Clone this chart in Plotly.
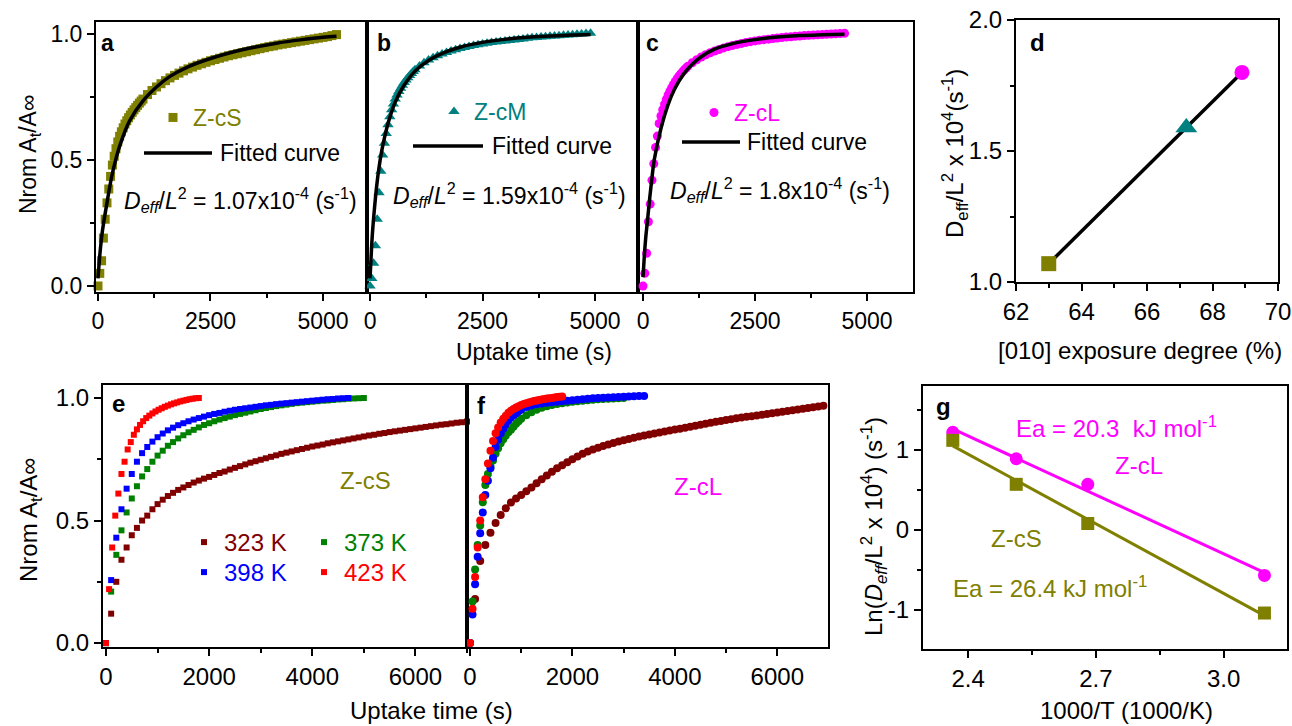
import numpy as np
import plotly.graph_objects as go

W, H = 1292, 726
OLIVE, TEAL, MAG = '#808000', '#008080', '#FF00FF'
BROWN, GREEN, BLUE, RED = '#800000', '#008000', '#0000FF', '#FF0000'
FONT = 'Liberation Sans, Arial, sans-serif'

# ---------------- data: panels a-c (uptake curves) ----------------
a_t = [0, 40, 80, 120, 160, 200, 240, 280, 320, 360, 400, 440, 480, 520, 560, 600, 640, 680, 720, 760,
       800, 840, 880, 920, 960, 1000, 1100, 1200, 1300, 1400, 1500, 1600, 1700, 1800, 1900, 2000, 2100,
       2200, 2300, 2400, 2500, 2600, 2700, 2800, 2900, 3000, 3100, 3200, 3300, 3400, 3500, 3600, 3700,
       3800, 3900, 4000, 4100, 4200, 4300, 4400, 4500, 4600, 4700, 4800, 4900, 5000, 5100, 5200, 5300]
a_y = [0, 0.05, 0.10, 0.19, 0.265, 0.33, 0.385, 0.435, 0.48, 0.515, 0.545, 0.572, 0.594, 0.612, 0.628,
       0.643, 0.656, 0.668, 0.679, 0.689, 0.699, 0.708, 0.717, 0.726, 0.734, 0.742, 0.76, 0.776, 0.79,
       0.803, 0.815, 0.826, 0.836, 0.845, 0.854, 0.862, 0.869, 0.876, 0.882, 0.888, 0.894, 0.899, 0.904,
       0.909, 0.914, 0.918, 0.922, 0.926, 0.93, 0.934, 0.938, 0.942, 0.946, 0.95, 0.953, 0.957, 0.96,
       0.963, 0.966, 0.969, 0.972, 0.975, 0.978, 0.981, 0.984, 0.987, 0.99, 0.994, 0.998]
fit_a_t = [0, 50, 100, 200, 300, 400, 500, 700, 1000, 1300, 1600, 2000, 2500, 3000, 3500, 4000, 4500, 5000, 5300]
fit_a_y = [0.03, 0.14, 0.22, 0.33, 0.43, 0.505, 0.565, 0.655, 0.735, 0.79, 0.832, 0.87, 0.903, 0.929,
           0.949, 0.965, 0.977, 0.987, 0.991]

b_t = [0, 40, 80, 120, 160, 200, 240, 280, 320, 360, 400, 440, 480, 520, 560, 600, 640, 680, 720, 760,
       800, 840, 880, 920, 960, 1000, 1100, 1200, 1300, 1400, 1500, 1600, 1700, 1800, 1900, 2000, 2100,
       2200, 2300, 2400, 2500, 2600, 2700, 2800, 2900, 3000, 3100, 3200, 3300, 3400, 3500, 3600, 3700,
       3800, 3900, 4000, 4100, 4200, 4300, 4400, 4500, 4600, 4700, 4800, 4900]
b_y = [0, 0.03, 0.09, 0.16, 0.265, 0.37, 0.455, 0.52, 0.567, 0.605, 0.64, 0.672, 0.70, 0.722, 0.742,
       0.758, 0.772, 0.785, 0.797, 0.808, 0.818, 0.827, 0.836, 0.844, 0.851, 0.858, 0.873, 0.886, 0.897,
       0.906, 0.914, 0.921, 0.927, 0.933, 0.938, 0.943, 0.947, 0.951, 0.955, 0.958, 0.961, 0.964, 0.967,
       0.969, 0.971, 0.973, 0.975, 0.977, 0.979, 0.981, 0.983, 0.985, 0.986, 0.988, 0.989, 0.991, 0.992,
       0.993, 0.995, 0.996, 0.997, 0.999, 1.0, 1.002, 1.003]
fit_b_t = [0, 20, 50, 100, 150, 200, 270, 400, 560, 750, 1000, 1300, 1700, 2000, 2500, 3000, 3500, 4000, 4500, 4900]
fit_b_y = [0.03, 0.10, 0.20, 0.31, 0.40, 0.47, 0.545, 0.645, 0.73, 0.795, 0.853, 0.895, 0.93, 0.948,
           0.967, 0.979, 0.987, 0.992, 0.996, 0.998]

c_t = [0, 40, 80, 120, 160, 200, 240, 280, 320, 360, 400, 440, 480, 520, 560, 600, 640, 680, 720, 760,
       800, 840, 880, 920, 960, 1000, 1100, 1200, 1300, 1400, 1500, 1600, 1700, 1800, 1900, 2000, 2100,
       2200, 2300, 2400, 2500, 2600, 2700, 2800, 2900, 3000, 3100, 3200, 3300, 3400, 3500, 3600, 3700,
       3800, 3900, 4000, 4100, 4200, 4300, 4400, 4500]
c_y = [0, 0.05, 0.13, 0.255, 0.325, 0.42, 0.485, 0.55, 0.595, 0.645, 0.675, 0.70, 0.722, 0.741, 0.758,
       0.773, 0.787, 0.80, 0.812, 0.823, 0.833, 0.842, 0.85, 0.858, 0.865, 0.872, 0.886, 0.898, 0.909,
       0.918, 0.926, 0.933, 0.939, 0.945, 0.95, 0.955, 0.959, 0.963, 0.967, 0.97, 0.973, 0.976, 0.978,
       0.98, 0.982, 0.984, 0.986, 0.988, 0.989, 0.991, 0.992, 0.994, 0.995, 0.996, 0.997, 0.998, 0.999,
       1.0, 1.001, 1.002, 1.003]
fit_c_t = [0, 30, 60, 100, 150, 200, 250, 400, 550, 700, 900, 1100, 1300, 1600, 2000, 2500, 3000, 3500, 4000, 4500]
fit_c_y = [0.035, 0.12, 0.19, 0.26, 0.35, 0.43, 0.5, 0.625, 0.715, 0.78, 0.84, 0.88, 0.91, 0.94, 0.962,
           0.978, 0.988, 0.994, 0.997, 0.999]

# ---------------- data: panel d ----------------
d_exposure = [63.0, 67.2, 68.9]
d_deff = [1.07, 1.59, 1.80]
d_symbols = ['square', 'triangle-up', 'circle']
d_colors = [OLIVE, TEAL, MAG]

# ---------------- data: panel e (Z-cS, temperatures) ----------------
e323_t = [0, 100, 200, 300, 400, 500, 600, 700, 800, 900, 1000, 1100, 1200, 1300, 1400, 1500, 1600, 1700,
          1800, 1900, 2000, 2100, 2200, 2300, 2400, 2500, 2600, 2700, 2800, 2900, 3000, 3100, 3200, 3300,
          3400, 3500, 3600, 3700, 3800, 3900, 4000, 4100, 4200, 4300, 4400, 4500, 4600, 4700, 4800, 4900,
          5000, 5100, 5200, 5300, 5400, 5500, 5600, 5700, 5800, 5900, 6000, 6100, 6200, 6300, 6400, 6500,
          6600, 6700, 6800, 6900, 7000]
e323_y = [0, 0.12, 0.25, 0.34, 0.39, 0.44, 0.47, 0.50, 0.52, 0.546, 0.567, 0.585, 0.60, 0.613, 0.625,
          0.635, 0.645, 0.655, 0.663, 0.671, 0.678, 0.686, 0.694, 0.70, 0.708, 0.715, 0.722, 0.729, 0.736,
          0.742, 0.748, 0.754, 0.76, 0.766, 0.772, 0.777, 0.782, 0.787, 0.792, 0.797, 0.802, 0.806, 0.81,
          0.815, 0.819, 0.823, 0.827, 0.831, 0.835, 0.839, 0.843, 0.847, 0.85, 0.854, 0.857, 0.861, 0.864,
          0.867, 0.87, 0.873, 0.876, 0.879, 0.882, 0.885, 0.888, 0.891, 0.893, 0.896, 0.899, 0.901, 0.904]
e373_t = [0, 100, 200, 300, 400, 500, 600, 700, 800, 900, 1000, 1100, 1200, 1300, 1400, 1500, 1600, 1700,
          1800, 1900, 2000, 2100, 2200, 2300, 2400, 2500, 2600, 2700, 2800, 2900, 3000, 3100, 3200, 3300,
          3400, 3500, 3600, 3700, 3800, 3900, 4000, 4100, 4200, 4300, 4400, 4500, 4600, 4700, 4800, 4900, 5000]
e373_y = [0, 0.21, 0.36, 0.46, 0.533, 0.59, 0.64, 0.68, 0.71, 0.74, 0.765, 0.785, 0.805, 0.82, 0.835,
          0.848, 0.86, 0.87, 0.88, 0.89, 0.897, 0.905, 0.912, 0.918, 0.924, 0.93, 0.935, 0.94, 0.945, 0.95,
          0.955, 0.959, 0.963, 0.967, 0.97, 0.973, 0.976, 0.979, 0.981, 0.983, 0.985, 0.987, 0.989, 0.99,
          0.992, 0.994, 0.995, 0.997, 0.998, 0.999, 1.0]
e398_t = [0, 100, 200, 300, 400, 500, 600, 700, 800, 900, 1000, 1100, 1200, 1300, 1400, 1500, 1600, 1700,
          1800, 1900, 2000, 2100, 2200, 2300, 2400, 2500, 2600, 2700, 2800, 2900, 3000, 3100, 3200, 3300,
          3400, 3500, 3600, 3700, 3800, 3900, 4000, 4100, 4200, 4300, 4400, 4500, 4600, 4700]
e398_y = [0, 0.257, 0.43, 0.546, 0.63, 0.69, 0.74, 0.775, 0.80, 0.822, 0.84, 0.855, 0.868, 0.879, 0.889,
          0.897, 0.905, 0.912, 0.918, 0.924, 0.93, 0.935, 0.939, 0.944, 0.948, 0.952, 0.955, 0.958, 0.961,
          0.964, 0.967, 0.97, 0.972, 0.975, 0.977, 0.979, 0.981, 0.983, 0.985, 0.987, 0.989, 0.991, 0.993,
          0.995, 0.996, 0.998, 0.999, 1.0]
e423_t = [0, 60, 120, 180, 240, 300, 360, 420, 480, 540, 600, 660, 720, 780, 840, 900, 960, 1020, 1080,
          1140, 1200, 1260, 1320, 1380, 1440, 1500, 1560, 1620, 1680, 1740, 1800]
e423_y = [0, 0.22, 0.39, 0.52, 0.61, 0.69, 0.74, 0.79, 0.82, 0.85, 0.872, 0.89, 0.905, 0.918, 0.928,
          0.937, 0.945, 0.952, 0.958, 0.964, 0.969, 0.974, 0.978, 0.982, 0.986, 0.989, 0.992, 0.995, 0.997,
          0.999, 1.0]

# ---------------- data: panel f (Z-cL, temperatures) ----------------
f323_t = e323_t
f323_y = [0, 0.18, 0.335, 0.40, 0.45, 0.49, 0.523, 0.55, 0.574, 0.59, 0.604, 0.619, 0.635, 0.652, 0.668,
          0.684, 0.699, 0.713, 0.726, 0.738, 0.75, 0.761, 0.772, 0.782, 0.79, 0.797, 0.804, 0.81, 0.816,
          0.822, 0.828, 0.833, 0.838, 0.843, 0.847, 0.851, 0.855, 0.859, 0.863, 0.867, 0.871, 0.875, 0.879,
          0.883, 0.887, 0.891, 0.895, 0.899, 0.903, 0.906, 0.91, 0.913, 0.917, 0.92, 0.923, 0.926, 0.929,
          0.932, 0.935, 0.938, 0.941, 0.944, 0.947, 0.95, 0.953, 0.956, 0.959, 0.962, 0.965, 0.968, 0.97]
f373_t = [0, 50, 100, 150, 200, 250, 300, 350, 400, 450, 500, 550, 600, 650, 700, 750, 800, 850, 900, 950,
          1000, 1100, 1200, 1300, 1400, 1500, 1600, 1700, 1800, 1900, 2000, 2100, 2200, 2300, 2400, 2500,
          2600, 2700, 2800, 2900, 3000]
f373_y = [0, 0.17, 0.30, 0.40, 0.48, 0.575, 0.645, 0.69, 0.72, 0.745, 0.772, 0.795, 0.815, 0.832, 0.847,
          0.86, 0.87, 0.883, 0.895, 0.905, 0.915, 0.93, 0.942, 0.952, 0.96, 0.966, 0.971, 0.975, 0.979,
          0.982, 0.985, 0.987, 0.989, 0.991, 0.993, 0.995, 0.996, 0.997, 0.998, 0.999, 1.0]
f398_t = [0, 50, 100, 150, 200, 250, 300, 350, 400, 450, 500, 550, 600, 650, 700, 750, 800, 850, 900, 950,
          1000, 1100, 1200, 1300, 1400, 1500, 1600, 1700, 1800, 1900, 2000, 2100, 2200, 2300, 2400, 2500,
          2600, 2700, 2800, 2900, 3000, 3100, 3200, 3300, 3400]
f398_y = [0, 0.117, 0.24, 0.352, 0.448, 0.533, 0.604, 0.662, 0.713, 0.756, 0.80, 0.83, 0.855, 0.875,
          0.893, 0.908, 0.92, 0.93, 0.938, 0.946, 0.953, 0.963, 0.969, 0.974, 0.978, 0.981, 0.983, 0.985,
          0.987, 0.989, 0.991, 0.993, 0.995, 0.997, 0.999, 1.0, 1.001, 1.002, 1.003, 1.004, 1.005, 1.006,
          1.007, 1.008, 1.008]
f423_t = [0, 50, 100, 150, 200, 250, 300, 350, 400, 450, 500, 550, 600, 650, 700, 750, 800, 850, 900, 950,
          1000, 1050, 1100, 1150, 1200, 1250, 1300, 1350, 1400, 1450, 1500, 1550, 1600, 1650, 1700, 1750, 1800]
f423_y = [0, 0.14, 0.27, 0.39, 0.50, 0.595, 0.668, 0.733, 0.785, 0.825, 0.856, 0.88, 0.90, 0.915, 0.928,
          0.94, 0.948, 0.955, 0.961, 0.966, 0.971, 0.975, 0.979, 0.982, 0.985, 0.988, 0.99, 0.992, 0.994,
          0.996, 0.998, 0.999, 1.0, 1.002, 1.004, 1.005, 1.006]

# ---------------- data: panel g (Arrhenius) ----------------
g_invT = [2.364, 2.513, 2.681, 3.096]
g_cL = [1.22, 0.89, 0.57, -0.57]
g_cS = [1.12, 0.57, 0.08, -1.04]
g_ytick_vals = [-1, 0, 1]
g_ytick_text = ['-1', '0', '1']


def span(txt, col):
    return '<span style="color:%s">%s</span>' % (col, txt)


def PX(x):
    return x / W


def PY(y):
    return 1 - y / H


fig = go.Figure()

# panels a-c
for (t, y, ft, fy, sym, col, lab, ax, lg) in [
    (a_t, a_y, fit_a_t, fit_a_y, 'square', OLIVE, 'Z-cS', '', 'legend'),
    (b_t, b_y, fit_b_t, fit_b_y, 'triangle-up', TEAL, 'Z-cM', '2', 'legend2'),
    (c_t, c_y, fit_c_t, fit_c_y, 'circle', MAG, 'Z-cL', '3', 'legend3')]:
    fig.add_trace(go.Scatter(x=t, y=y, mode='markers', xaxis='x' + ax, yaxis='y' + ax,
                             marker=dict(symbol=sym, size=10 if sym == 'triangle-up' else 9,
                                         color=col, opacity=1, line=dict(width=0)),
                             name=span(lab, col), legend=lg, cliponaxis=False))
    fig.add_trace(go.Scatter(x=ft, y=fy, mode='lines', xaxis='x' + ax, yaxis='y' + ax,
                             line=dict(color='black', width=3.5, shape='spline'),
                             name='Fitted curve', showlegend=False))

# panel d
fig.add_trace(go.Scatter(x=d_exposure, y=d_deff, mode='lines', xaxis='x4', yaxis='y4',
                         line=dict(color='black', width=3.5), showlegend=False))
for i in range(len(d_exposure)):
    fig.add_trace(go.Scatter(x=[d_exposure[i]], y=[d_deff[i]], mode='markers', xaxis='x4', yaxis='y4',
                             marker=dict(symbol=d_symbols[i], size=19 if i == 1 else 15,
                                         color=d_colors[i], opacity=1, line=dict(width=0)),
                             showlegend=False, cliponaxis=False))

# panel e
for (t, y, col, lab, lg) in [(e323_t, e323_y, BROWN, '323 K', 'legend4'),
                             (e373_t, e373_y, GREEN, '373 K', 'legend4'),
                             (e398_t, e398_y, BLUE, '398 K', 'legend5'),
                             (e423_t, e423_y, RED, '423 K', 'legend5')]:
    fig.add_trace(go.Scatter(x=t, y=y, mode='markers', xaxis='x5', yaxis='y5',
                             marker=dict(symbol='square', size=6, color=col, line=dict(width=0)),
                             name=span(lab, col), legend=lg, cliponaxis=False))

# panel f
for (t, y, col) in [(f323_t, f323_y, BROWN), (f373_t, f373_y, GREEN),
                    (f398_t, f398_y, BLUE), (f423_t, f423_y, RED)]:
    fig.add_trace(go.Scatter(x=t, y=y, mode='markers', xaxis='x6', yaxis='y6',
                             marker=dict(symbol='circle', size=8, color=col, line=dict(width=0)),
                             showlegend=False, cliponaxis=False))

# panel g
gx = np.array(g_invT)
for (vals, col, sym) in [(g_cL, MAG, 'circle'), (g_cS, OLIVE, 'square')]:
    k, b0 = np.polyfit(gx, np.array(vals), 1)
    xs = np.array([gx.min(), gx.max()])
    fig.add_trace(go.Scatter(x=xs, y=k * xs + b0, mode='lines', xaxis='x7', yaxis='y7',
                             line=dict(color=col, width=3), showlegend=False))
    fig.add_trace(go.Scatter(x=g_invT, y=vals, mode='markers', xaxis='x7', yaxis='y7',
                             marker=dict(symbol=sym, size=13, color=col, line=dict(width=0)),
                             showlegend=False, cliponaxis=False))


def axis(dom, rng, dtick=None, mdtick=None, labels=True, ticks=True, fmt=None, size=23, anchor=None,
         tickvals=None, ticktext=None):
    d = dict(domain=dom, range=rng, showline=True, linecolor='black', linewidth=2, mirror=True,
             showgrid=False, zeroline=False, automargin=False, ticks='outside' if ticks else '',
             ticklen=7, tickwidth=2, tickcolor='black', showticklabels=labels,
             tickfont=dict(size=size, color='black', family=FONT))
    if dtick is not None:
        d.update(dtick=dtick, tick0=0)
    if tickvals is not None:
        d.update(tickmode='array', tickvals=tickvals, ticktext=ticktext)
    if ticks and mdtick:
        d['minor'] = dict(ticks='outside', ticklen=4, tickwidth=2, tickcolor='black', dtick=mdtick,
                          tick0=0, showgrid=False)
    if fmt:
        d['tickformat'] = fmt
    if anchor:
        d['anchor'] = anchor
    return d


def XD(a, b):
    return [a / W, b / W]


def YD(top, bot):
    return [1 - bot / H, 1 - top / H]


yr_top = YD(22, 292)
yr_bot = YD(385, 647)
layout_axes = dict(
    xaxis=axis(XD(96, 367), [-44, 5978], 2500, 1250, anchor='y'),
    yaxis=axis(yr_top, [-0.024, 1.048], 0.5, 0.25, fmt='.1f', anchor='x'),
    xaxis2=axis(XD(367, 638), [-67, 5955], 2500, 1250, anchor='y2'),
    yaxis2=axis(yr_top, [-0.024, 1.048], labels=False, ticks=False, anchor='x2'),
    xaxis3=axis(XD(638, 913), [-112, 6027], 2500, 1250, anchor='y3'),
    yaxis3=axis(yr_top, [-0.024, 1.048], labels=False, ticks=False, anchor='x3'),
    xaxis4=axis(XD(1016, 1278), [62, 70], 2, 1, size=24, anchor='y4'),
    yaxis4=axis(YD(20, 282), [1, 2], 0.5, 0.25, fmt='.1f', size=24, anchor='x4'),
    xaxis5=axis(XD(103, 467), [-58, 7000], 2000, 1000, size=24, anchor='y5'),
    yaxis5=axis(yr_bot, [-0.016, 1.053], 0.5, 0.25, fmt='.1f', size=24, anchor='x5'),
    xaxis6=axis(XD(467, 828), [-58, 6990], 2000, 1000, size=24, anchor='y6'),
    yaxis6=axis(yr_bot, [-0.016, 1.053], labels=False, ticks=False, anchor='x6'),
    xaxis7=axis(XD(923, 1287), [2.294, 3.149], 0.3, 0.15, fmt='.1f', size=24, anchor='y7'),
    yaxis7=axis(YD(386, 649), [-1.49, 1.80], mdtick=0.5, size=24, anchor='x7',
                tickvals=g_ytick_vals, ticktext=g_ytick_text),
)

leg_common = dict(bgcolor='rgba(0,0,0,0)', borderwidth=0, xanchor='left', yanchor='top',
                  font=dict(size=23, color='black', family=FONT), itemclick=False)
leg_e = dict(leg_common)
leg_e.update(font=dict(size=24, color='black', family=FONT), orientation='h',
             entrywidth=75, entrywidthmode='pixels')
legends = dict(
    legend=dict(x=PX(153), y=PY(96), **leg_common),
    legend2=dict(x=PX(434), y=PY(90), **leg_common),
    legend3=dict(x=PX(694), y=PY(91), **leg_common),
    legend4=dict(x=PX(184), y=PY(520), **leg_e),
    legend5=dict(x=PX(184), y=PY(550), **leg_e),
)


def ann(x, y, text, size=23, color='black', angle=0, xanchor='center', bold=False, yanchor='middle'):
    if bold:
        text = '<b>%s</b>' % text
    return dict(x=PX(x), y=PY(y), xref='paper', yref='paper', text=text, showarrow=False,
                font=dict(size=size, color=color, family=FONT), textangle=angle,
                xanchor=xanchor, yanchor=yanchor)


deff = '<i>D</i><sub><i>eff</i></sub>/<i>L</i><sup>2</sup> = %sx10<sup>-4</sup> (s<sup>-1</sup>)'
annotations = [
    ann(107, 43, 'a', 23, bold=True), ann(384, 43, 'b', 23, bold=True), ann(652, 43, 'c', 23, bold=True),
    ann(1037, 43, 'd', 24, bold=True), ann(118, 403, 'e', 24, bold=True), ann(482, 405, 'f', 24, bold=True),
    ann(943, 406, 'g', 24, bold=True),
    ann(218, 153, 'Fitted curve', 23, xanchor='left'),
    ann(490, 146, 'Fitted curve', 23, xanchor='left'),
    ann(745, 142, 'Fitted curve', 23, xanchor='left'),
    ann(241, 200, deff % '1.07'), ann(509, 195, deff % '1.59'), ann(780, 190, deff % '1.8'),
    ann(29, 155, 'Nrom A<sub>t</sub>/A\u221e', 23, angle=-90),
    ann(30, 520, 'Nrom A<sub>t</sub>/A\u221e', 24, angle=-90),
    ann(534, 352, 'Uptake time (s)', 23),
    ann(432, 726, 'Uptake time (s)', 24, yanchor='bottom'),
    ann(955, 154, 'D<sub>eff</sub>/L<sup>2</sup> x 10<sup>4</sup>(s<sup>-1</sup>)', 24, angle=-90),
    ann(1140, 350, '[010] exposure degree (%)', 24),
    ann(874, 527, 'Ln(<i>D</i><sub><i>eff</i></sub>/L<sup>2</sup> x 10<sup>4</sup>) (s<sup>-1</sup>)', 24, angle=-90),
    ann(1126, 726, '1000/T (1000/K)', 24, yanchor='bottom'),
    ann(365, 480, 'Z-cS', 24, OLIVE),
    ann(698, 487, 'Z-cL', 24, MAG),
    ann(1116, 427, 'Ea = 20.3\u00a0\u00a0kJ mol<sup>-1</sup>', 24, MAG),
    ann(1139, 465, 'Z-cL', 24, MAG),
    ann(1016, 538, 'Z-cS', 24, OLIVE),
    ann(1050, 587, 'Ea = 26.4 kJ mol<sup>-1</sup>', 24, OLIVE),
]

# legend line samples for the fitted curves (decoration, paper coordinates)
shapes = [dict(type='line', xref='paper', yref='paper', x0=PX(x0), x1=PX(x1), y0=PY(yy), y1=PY(yy),
               line=dict(color='black', width=3.5))
          for (x0, x1, yy) in [(144, 212, 153), (413, 483, 146), (682, 740, 142)]]

fig.update_layout(template='none', width=W, height=H, margin=dict(l=0, r=0, t=0, b=0, pad=0),
                  autosize=False, paper_bgcolor='white', plot_bgcolor='rgba(0,0,0,0)',
                  font=dict(family=FONT, size=23, color='black'),
                  annotations=annotations, shapes=shapes, hovermode=False, **layout_axes, **legends)

fig.write_html('out.html', config={'displayModeBar': False, 'staticPlot': False},
               post_script="document.body.style.margin='0px';document.body.style.padding='0px';"
                           "document.body.style.overflow='hidden';")
